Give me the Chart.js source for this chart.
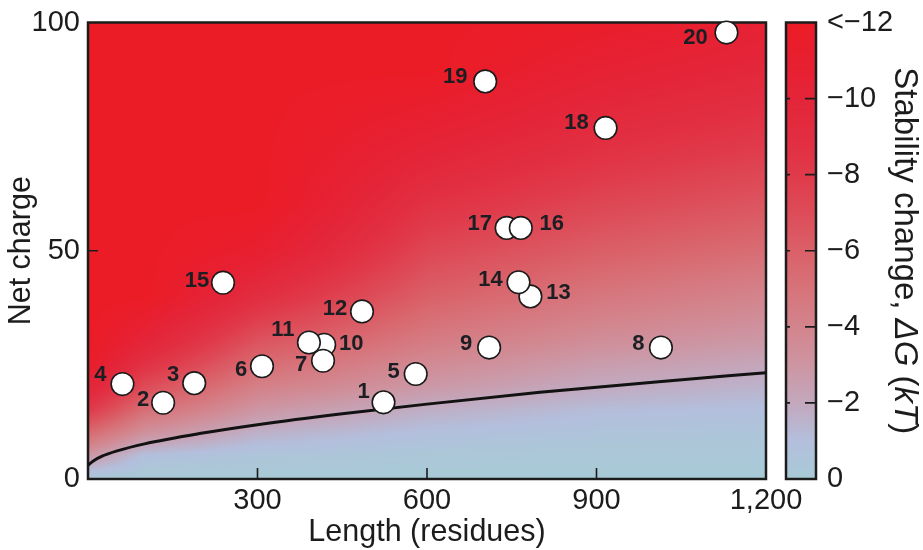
<!DOCTYPE html>
<html>
<head>
<meta charset="utf-8">
<script src="https://cdn.jsdelivr.net/npm/chart.js@4.4.1/dist/chart.umd.min.js"></script>
<style>
  html, body { margin: 0; padding: 0; background: #ffffff; }
  #c { display: block; }
</style>
</head>
<body>
<canvas id="c" width="923" height="550"></canvas>
<script>
// ---------------- DATA ----------------
// Point labels (array order = drawing order, later ones sit on top)
const pointLabels = ['1','2','3','4','5','6','8','9','10','7','11','12','13','14','15','17','16','18','19','20'];
// Length (residues)
const lengths = [523, 133, 188, 61, 580, 308, 1014, 710, 418, 416, 391, 485, 783, 762, 239, 741, 766, 916, 703, 1130];
// Net charge
const charges = [16.8, 16.7, 21.0, 20.8, 23.0, 24.7, 28.8, 28.8, 29.4, 25.9, 29.9, 36.7, 40.0, 43.1, 43.0, 55.0, 55.0, 76.9, 87.1, 97.8];

// Black boundary curve
const boundaryLengths = [0, 10, 25, 50, 100, 200, 300, 450, 600, 800, 1000, 1200];
const boundaryCharges = [3.0, 4.0, 5.0, 6.1, 7.7, 10.0, 11.9, 14.3, 16.4, 19.0, 21.2, 23.3];

// Axis ticks
const xTicks = [300, 600, 900, 1200];
const xTickLabels = ['300', '600', '900', '1,200'];
const yTicks = [0, 50, 100];
const yTickLabels = ['0', '50', '100'];
const colorTicks = [-12, -10, -8, -6, -4, -2, 0];
const colorTickLabels = ['<\u221212', '\u221210', '\u22128', '\u22126', '\u22124', '\u22122', '0'];

// Stability change field (kT) sampled on a coarse grid
const gridLengths = [0, 100, 300, 600, 900, 1200];
const gridCharges = [0, 5, 10, 15, 20, 25, 30, 40, 50, 60, 70, 80, 90, 100];
const stabilityGrid = [
  [-0.2,  0.0,  0.0,  0.0,  0.0,  0.0],
  [-2.8, -0.9, -0.5, -0.3, -0.2, -0.2],
  [-5.5, -3.2, -1.6, -0.9, -0.6, -0.5],
  [-8.0, -5.2, -2.9, -1.7, -1.1, -0.9],
  [-10.0,-7.0, -4.2, -2.8, -1.9, -1.5],
  [-11.5,-8.6, -5.4, -3.6, -2.6, -2.1],
  [-12,  -10,  -6.6, -4.5, -3.4, -2.8],
  [-12,  -12,  -9.0, -6.0, -4.8, -4.0],
  [-12,  -12, -11.0, -7.3, -6.1, -5.3],
  [-12,  -12,  -12,  -8.6, -7.3, -6.5],
  [-12,  -12,  -12,  -9.9, -8.5, -7.6],
  [-12,  -12,  -12, -11.0, -9.6, -8.7],
  [-12,  -12,  -12,  -12, -10.6, -9.7],
  [-12,  -12,  -12,  -12, -11.5, -10.6]
];

// ---------------- STYLE ----------------
const FONT = "'Liberation Sans', Arial, Helvetica, sans-serif";
const INK = '#1c1c1c';
const colorStopValues = [0, -1, -2, -3, -4, -5, -6, -7, -8, -9, -10, -11, -12];
const colorStopColors = ['#a8cad6', '#b3bfdc', '#c3a8bd', '#cd95a2', '#d3848c', '#d7737a',
                         '#da6068', '#dd4c58', '#e03a4a', '#e22d40', '#e42539', '#e81f2f', '#ec1c26'];
// label offsets (px) relative to each point, keyed by label
const labelOffsets = {
  '1': [-20, -10], '2': [-20, -3], '3': [-21, -8], '4': [-22, -9], '5': [-22, -2],
  '6': [-21, 4], '7': [-22, 4], '8': [-22.5, -4], '9': [-23, -4], '10': [27, -1],
  '11': [-26, -13], '12': [-27, -3], '13': [28, -3], '14': [-28, -2], '15': [-26, -2],
  '16': [31, -4], '17': [-27, -4], '18': [-29, -5], '19': [-30, -4], '20': [-31, 5]
};

// ---------------- HELPERS ----------------
function hexToRgb(h) { return [parseInt(h.substr(1,2),16), parseInt(h.substr(3,2),16), parseInt(h.substr(5,2),16)]; }
const stopRgb = colorStopColors.map(hexToRgb);
function lerp(a, b, t) { return a + (b - a) * t; }
function findSeg(arr, v) {
  if (v <= arr[0]) return [0, 0];
  for (let i = 0; i < arr.length - 1; i++) {
    if (v <= arr[i + 1]) return [i, (v - arr[i]) / (arr[i + 1] - arr[i])];
  }
  return [arr.length - 2, 1];
}
function stabilityAt(n, q) {
  const [i, ti] = findSeg(gridLengths, n);
  const [j, tj] = findSeg(gridCharges, q);
  const a = stabilityGrid[j][i], b = stabilityGrid[j][i + 1];
  const c = stabilityGrid[j + 1][i], d = stabilityGrid[j + 1][i + 1];
  return lerp(lerp(a, b, ti), lerp(c, d, ti), tj);
}
function colorFor(g) {
  const neg = colorStopValues.map(v => -v);
  const [i, t] = findSeg(neg, Math.max(0, Math.min(12, -g)));
  const a = stopRgb[i], b = stopRgb[i + 1];
  return [lerp(a[0], b[0], t), lerp(a[1], b[1], t), lerp(a[2], b[2], t)];
}
function noVerticalPadding(s) { s.paddingTop = 0; s.paddingBottom = 0; }

// ---------------- PLUGINS ----------------
const backdropPlugin = {
  id: 'backdrop',
  beforeDatasetsDraw(chart) {
    const { ctx, chartArea: a, scales } = chart;
    const x = scales.x, y = scales.y, cb = scales.cb;
    const L = Math.round(a.left), T = Math.floor(a.top), W = Math.round(a.right) - L, H = Math.round(a.bottom) - T;
    const off = document.createElement('canvas');
    off.width = W; off.height = H;
    const octx = off.getContext('2d');
    const img = octx.createImageData(W, H);
    for (let py = 0; py < H; py++) {
      const q = y.getValueForPixel(T + py + 0.5);
      for (let px = 0; px < W; px++) {
        const n = x.getValueForPixel(L + px + 0.5);
        const c = colorFor(stabilityAt(n, q));
        const k = (py * W + px) * 4;
        img.data[k] = c[0]; img.data[k + 1] = c[1]; img.data[k + 2] = c[2]; img.data[k + 3] = 255;
      }
    }
    octx.putImageData(img, 0, 0);
    ctx.save();
    ctx.drawImage(off, L, T);

    // colour bar
    const cbL = 786, cbR = 816;
    for (let py = Math.floor(a.top); py < Math.round(a.bottom); py++) {
      const c = colorFor(cb.getValueForPixel(py + 0.5));
      ctx.fillStyle = 'rgb(' + c.map(Math.round).join(',') + ')';
      ctx.fillRect(cbL, py, cbR - cbL, 1);
    }

    // frames
    ctx.strokeStyle = INK;
    ctx.lineWidth = 2.5;
    ctx.strokeRect(a.left, a.top, a.right - a.left, a.bottom - a.top);
    ctx.strokeRect(cbL, a.top, cbR - cbL, a.bottom - a.top);

    // inward ticks
    ctx.lineWidth = 1.6;
    ctx.beginPath();
    xTicks.forEach(v => {
      if (v <= x.min || v >= x.max) return;
      const px = x.getPixelForValue(v);
      ctx.moveTo(px, a.bottom); ctx.lineTo(px, a.bottom - 11);
    });
    yTicks.forEach(v => {
      if (v <= y.min || v >= y.max) return;
      const py = y.getPixelForValue(v);
      ctx.moveTo(a.left, py); ctx.lineTo(a.left + 10, py);
    });
    colorTicks.forEach(v => {
      if (v <= cb.min || v >= cb.max) return;
      const py = cb.getPixelForValue(v);
      ctx.moveTo(cbR, py); ctx.lineTo(cbR - 11, py);
      ctx.moveTo(cbL, py); ctx.lineTo(cbL + 4, py);
    });
    ctx.stroke();
    ctx.restore();
  },
  afterDatasetsDraw(chart) {
    const { ctx } = chart;
    const meta = chart.getDatasetMeta(0);
    ctx.save();
    ctx.font = 'bold 22px ' + FONT;
    ctx.fillStyle = '#1b1e22';
    ctx.textAlign = 'center';
    ctx.textBaseline = 'middle';
    meta.data.forEach((el, i) => {
      const lab = pointLabels[i];
      const o = labelOffsets[lab] || [-22, 0];
      ctx.fillText(lab, el.x + o[0], el.y + o[1]);
    });
    ctx.restore();
  },
  afterDraw(chart) {
    const { ctx, chartArea: a } = chart;
    const parts = [
      ['Stability change, ', 'normal'],
      ['\u0394G', 'italic'],
      [' (', 'normal'],
      ['kT', 'italic'],
      [')', 'normal']
    ];
    const size = 33;
    ctx.save();
    let total = 0;
    const widths = parts.map(p => { ctx.font = p[1] + ' ' + size + 'px ' + FONT; const w = ctx.measureText(p[0]).width; total += w; return w; });
    ctx.translate(895, (a.top + a.bottom) / 2);
    ctx.rotate(Math.PI / 2);
    ctx.fillStyle = INK;
    ctx.textBaseline = 'alphabetic';
    ctx.textAlign = 'left';
    let cx = -total / 2;
    parts.forEach((p, i) => {
      ctx.font = p[1] + ' ' + size + 'px ' + FONT;
      ctx.fillText(p[0], cx, 0);
      cx += widths[i];
    });
    ctx.restore();
  }
};

// ---------------- CHART ----------------
new Chart(document.getElementById('c'), {
  type: 'scatter',
  data: {
    datasets: [
      {
        label: 'Proteins',
        data: lengths.map((n, i) => ({ x: n, y: charges[i] })),
        xAxisID: 'x', yAxisID: 'y',
        pointRadius: 11.3, pointHoverRadius: 11.3,
        pointBackgroundColor: '#ffffff',
        pointBorderColor: '#1a1a1a',
        pointBorderWidth: 1.6,
        clip: false
      },
      {
        type: 'line',
        label: 'Boundary',
        data: boundaryLengths.map((n, i) => ({ x: n, y: boundaryCharges[i] })),
        xAxisID: 'x', yAxisID: 'y',
        borderColor: '#121212',
        borderWidth: 3,
        pointRadius: 0,
        fill: false,
        cubicInterpolationMode: 'monotone'
      }
    ]
  },
  options: {
    responsive: false,
    animation: false,
    devicePixelRatio: 1,
    events: [],
    layout: { padding: { top: 22.5, left: 0, right: 0, bottom: 0 } },
    plugins: { legend: { display: false }, tooltip: { enabled: false } },
    scales: {
      x: {
        type: 'linear', position: 'bottom', min: 0, max: 1200,
        afterBuildTicks(s) { s.ticks = xTicks.map(v => ({ value: v })); },
        afterFit(s) { s.height = 71; },
        grid: { display: false, drawTicks: false },
        border: { display: false },
        ticks: {
          autoSkip: false, maxRotation: 0, padding: 5,
          font: { family: FONT, size: 29 }, color: INK,
          callback: (v) => { const k = xTicks.indexOf(v); return k >= 0 ? xTickLabels[k] : ''; }
        },
        title: {
          display: true, text: 'Length (residues)', color: INK,
          font: { family: FONT, size: 30.5, lineHeight: 1.1 },
          padding: { top: 0, bottom: 0.2 }
        }
      },
      y: {
        type: 'linear', position: 'left', min: 0, max: 100,
        afterBuildTicks(s) { s.ticks = yTicks.map(v => ({ value: v })); },
        afterFit(s) { s.width = 88; noVerticalPadding(s); },
        grid: { display: false, drawTicks: false },
        border: { display: false },
        ticks: {
          autoSkip: false, padding: 8,
          font: { family: FONT, size: 29 }, color: INK,
          callback: (v) => { const k = yTicks.indexOf(v); return k >= 0 ? yTickLabels[k] : ''; }
        },
        title: {
          display: true, text: 'Net charge', color: INK,
          font: { family: FONT, size: 30.5, lineHeight: 1.2 },
          padding: { top: 3, bottom: 0 }
        }
      },
      cb: {
        type: 'linear', position: 'right', axis: 'y', min: -12, max: 0, reverse: true,
        afterBuildTicks(s) { s.ticks = colorTicks.map(v => ({ value: v })); },
        afterFit(s) { s.width = 157; noVerticalPadding(s); },
        grid: { display: false, drawTicks: false },
        border: { display: false },
        ticks: {
          autoSkip: false, padding: 61,
          font: { family: FONT, size: 29 }, color: INK,
          callback: (v) => { const k = colorTicks.indexOf(v); return k >= 0 ? colorTickLabels[k] : ''; }
        }
      }
    }
  },
  plugins: [backdropPlugin]
});
</script>
</body>
</html>
